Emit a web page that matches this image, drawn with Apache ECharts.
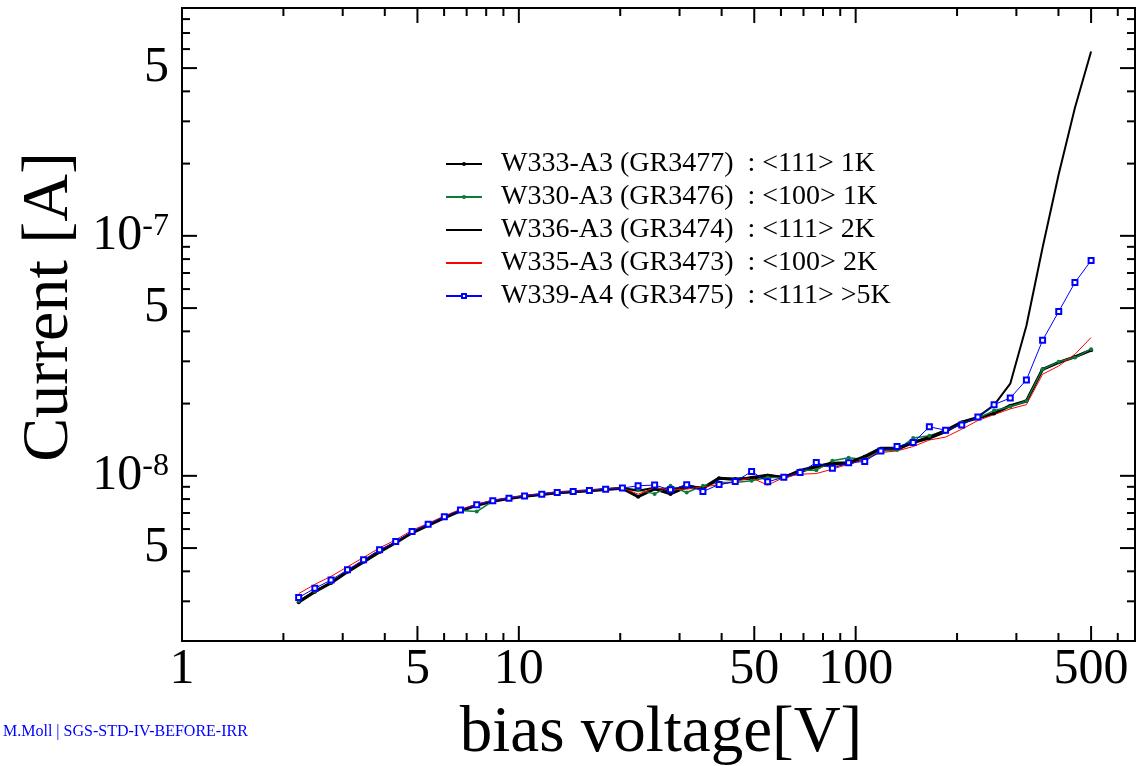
<!DOCTYPE html>
<html><head><meta charset="utf-8">
<script src="https://cdn.jsdelivr.net/npm/echarts@6/dist/echarts.min.js"></script>
<style>html,body{margin:0;padding:0;background:#fff}#c{width:1136px;height:766px}</style>
</head><body><div id="c"></div>
<script>
// ---- data ----
const voltages = [2.22, 2.48, 2.77, 3.10, 3.46, 3.86, 4.31, 4.82, 5.38, 6.01,
  6.71, 7.50, 8.37, 9.35, 10.4, 11.7, 13.0, 14.5, 16.2, 18.1,
  20.3, 22.6, 25.3, 28.2, 31.5, 35.2, 39.3, 43.9, 49.1, 54.8,
  61.2, 68.4, 76.4, 85.3, 95.3, 106.4, 118.8, 132.7, 148.2, 165.5,
  184.9, 206.5, 230.6, 257.6, 287.7, 321.3, 358.9, 400.8, 447.7, 500];

const w333 = [2.97e-9, 3.29e-9, 3.58e-9, 3.98e-9, 4.38e-9, 4.82e-9, 5.26e-9, 5.79e-9, 6.22e-9, 6.68e-9,
  7.15e-9, 7.54e-9, 7.83e-9, 8.04e-9, 8.22e-9, 8.36e-9, 8.50e-9, 8.58e-9, 8.66e-9, 8.78e-9,
  8.87e-9, 8.18e-9, 8.83e-9, 8.41e-9, 9.00e-9, 8.89e-9, 9.78e-9, 9.69e-9, 9.78e-9, 1.00e-8,
  9.84e-9, 1.042e-8, 1.09e-8, 1.119e-8, 1.119e-8, 1.20e-8, 1.29e-8, 1.29e-8, 1.377e-8, 1.436e-8,
  1.53e-8, 1.67e-8, 1.74e-8, 1.82e-8, 1.96e-8, 2.05e-8, 2.78e-8, 2.97e-8, 3.13e-8, 3.34e-8];

const w330 = [3.01e-9, 3.31e-9, 3.60e-9, 4.00e-9, 4.40e-9, 4.84e-9, 5.28e-9, 5.81e-9, 6.24e-9, 6.70e-9,
  7.17e-9, 7.10e-9, 7.85e-9, 8.05e-9, 8.23e-9, 8.37e-9, 8.51e-9, 8.59e-9, 8.67e-9, 8.79e-9,
  8.88e-9, 8.74e-9, 8.41e-9, 9.09e-9, 8.52e-9, 9.09e-9, 9.38e-9, 9.38e-9, 9.53e-9, 9.84e-9,
  9.84e-9, 1.056e-8, 1.056e-8, 1.155e-8, 1.19e-8, 1.17e-8, 1.27e-8, 1.28e-8, 1.436e-8, 1.47e-8,
  1.54e-8, 1.67e-8, 1.74e-8, 1.87e-8, 1.94e-8, 2.05e-8, 2.78e-8, 2.985e-8, 3.11e-8, 3.37e-8];

const w336 = [3.00e-9, 3.31e-9, 3.60e-9, 4.00e-9, 4.40e-9, 4.84e-9, 5.28e-9, 5.80e-9, 6.24e-9, 6.70e-9,
  7.16e-9, 7.55e-9, 7.85e-9, 8.05e-9, 8.23e-9, 8.37e-9, 8.51e-9, 8.59e-9, 8.67e-9, 8.79e-9,
  8.88e-9, 8.66e-9, 8.91e-9, 8.66e-9, 9.17e-9, 8.83e-9, 9.72e-9, 9.62e-9, 9.90e-9, 1.01e-8,
  9.90e-9, 1.059e-8, 1.10e-8, 1.133e-8, 1.14e-8, 1.21e-8, 1.31e-8, 1.31e-8, 1.385e-8, 1.454e-8,
  1.555e-8, 1.68e-8, 1.76e-8, 1.97e-8, 2.42e-8, 4.22e-8, 8.94e-8, 1.81e-7, 3.42e-7, 5.86e-7];

const w335 = [3.23e-9, 3.53e-9, 3.81e-9, 4.18e-9, 4.57e-9, 5.01e-9, 5.41e-9, 5.93e-9, 6.34e-9, 6.81e-9,
  7.25e-9, 7.62e-9, 7.90e-9, 8.10e-9, 8.28e-9, 8.42e-9, 8.55e-9, 8.63e-9, 8.71e-9, 8.83e-9,
  8.92e-9, 8.39e-9, 8.91e-9, 8.74e-9, 8.80e-9, 9.00e-9, 9.17e-9, 9.47e-9, 9.81e-9, 9.15e-9,
  9.84e-9, 1.016e-8, 1.022e-8, 1.066e-8, 1.119e-8, 1.17e-8, 1.25e-8, 1.27e-8, 1.325e-8, 1.41e-8,
  1.45e-8, 1.565e-8, 1.70e-8, 1.80e-8, 1.90e-8, 1.98e-8, 2.65e-8, 2.87e-8, 3.21e-8, 3.77e-8];

const w339 = [3.11e-9, 3.40e-9, 3.68e-9, 4.06e-9, 4.47e-9, 4.92e-9, 5.32e-9, 5.86e-9, 6.29e-9, 6.75e-9,
  7.20e-9, 7.57e-9, 7.87e-9, 8.07e-9, 8.25e-9, 8.39e-9, 8.52e-9, 8.60e-9, 8.68e-9, 8.80e-9,
  8.89e-9, 9.09e-9, 9.15e-9, 8.74e-9, 9.17e-9, 8.60e-9, 9.20e-9, 9.47e-9, 1.042e-8, 9.44e-9,
  9.87e-9, 1.032e-8, 1.136e-8, 1.076e-8, 1.133e-8, 1.148e-8, 1.27e-8, 1.324e-8, 1.376e-8, 1.60e-8,
  1.55e-8, 1.63e-8, 1.76e-8, 1.98e-8, 2.11e-8, 2.51e-8, 3.67e-8, 4.84e-8, 6.39e-8, 7.89e-8];

const seriesNames = [
  'W333-A3 (GR3477)  : <111> 1K',
  'W330-A3 (GR3476)  : <100> 1K',
  'W336-A3 (GR3474)  : <111> 2K',
  'W335-A3 (GR3473)  : <100> 2K',
  'W339-A4 (GR3475)  : <111> >5K'
];

const xTickLabels = [1, 5, 10, 50, 100, 500];
const xMajorTicks = [1, 5, 10, 50, 100, 500];
const xMinorTicks = [2, 3, 4, 6, 7, 8, 9, 20, 30, 40, 60, 70, 80, 90, 200, 300, 400, 600];
const yTickLabels = [5e-9, 1e-8, 5e-8, 1e-7, 5e-7];
const yMajorTicks = [5e-9, 1e-8, 5e-8, 1e-7, 5e-7];
const yMinorTicks = [3e-9, 4e-9, 6e-9, 7e-9, 8e-9, 9e-9, 2e-8, 3e-8, 4e-8, 6e-8, 7e-8, 8e-8, 9e-8,
  2e-7, 3e-7, 4e-7, 6e-7, 7e-7, 8e-7];

const X_MIN = 1, X_MAX = 675, Y_MIN = 2.05e-9, Y_MAX = 8.9e-7;
const FONT = 'Liberation Serif';

// ---- chart ----
const pairs = arr => voltages.map((v, i) => [v, arr[i]]);
const chart = echarts.init(document.getElementById('c'), null, {renderer: 'canvas'});

function tickLine(x1, y1, x2, y2) {
  return {type: 'line', shape: {x1, y1, x2, y2}, style: {stroke: '#000', lineWidth: 2}};
}
const MAJOR = 15, MINOR = 8;

const option = {
  animation: false,
  backgroundColor: '#fff',
  grid: {left: 182, right: 1, top: 8, bottom: 125, show: true, borderColor: '#000', borderWidth: 2, containLabel: false},
  xAxis: {type: 'log', logBase: 10, min: X_MIN, max: X_MAX,
    axisLine: {show: false}, axisTick: {show: false}, axisLabel: {show: false}, splitLine: {show: false}},
  yAxis: {type: 'log', logBase: 10, min: Y_MIN, max: Y_MAX,
    axisLine: {show: false}, axisTick: {show: false}, axisLabel: {show: false}, splitLine: {show: false}},
  legend: {
    orient: 'vertical', left: 445, top: 150, padding: 0,
    itemWidth: 36, itemHeight: 5, itemGap: 5,
    textStyle: {fontFamily: FONT, fontSize: 28, lineHeight: 28, color: '#000', padding: [0, 0, 0, 14]},
    data: [
      {name: seriesNames[0]},
      {name: seriesNames[1]},
      {name: seriesNames[2], itemStyle: {opacity: 0}},
      {name: seriesNames[3], itemStyle: {opacity: 0}},
      {name: seriesNames[4]}
    ]
  },
  graphic: [
    {type: 'text', left: 3, top: 724, style: {text: 'M.Moll | SGS-STD-IV-BEFORE-IRR', fill: '#0000ff', font: '16px "Liberation Serif"'}},
    {type: 'text', x: 661, y: 734, style: {text: 'bias voltage[V]', fill: '#000', font: '65px "Liberation Serif"', align: 'center', verticalAlign: 'middle'}},
    {type: 'text', x: 50, y: 307, rotation: Math.PI / 2, style: {text: 'Current [A]', fill: '#000', font: '66px "Liberation Serif"', align: 'center', verticalAlign: 'middle'}}
  ],
  series: [
    {name: seriesNames[0], type: 'line', data: pairs(w333), color: '#000',
      lineStyle: {width: 3, color: '#000'}, symbol: 'circle', symbolSize: 4, showAllSymbol: true,
      itemStyle: {color: '#000'}},
    {name: seriesNames[1], type: 'line', data: pairs(w330), color: '#0b7a3b',
      lineStyle: {width: 1.5, color: '#0b7a3b'}, symbol: 'circle', symbolSize: 4, showAllSymbol: true,
      itemStyle: {color: '#0b7a3b'}},
    {name: seriesNames[2], type: 'line', data: pairs(w336), color: '#000',
      lineStyle: {width: 2, color: '#000'}, symbol: 'none'},
    {name: seriesNames[3], type: 'line', data: pairs(w335), color: '#ff0000',
      lineStyle: {width: 1, color: '#ff0000'}, symbol: 'none'},
    {name: seriesNames[4], type: 'line', data: pairs(w339), color: '#0000ff',
      lineStyle: {width: 1, color: '#0000ff'}, symbol: 'emptyRect', symbolSize: 5, showAllSymbol: true,
      itemStyle: {color: '#0000ff', borderWidth: 1}},
    // x-axis ticks (bottom and mirrored top)
    {type: 'custom', silent: true, z: 10,
      data: xMajorTicks.map(v => [v, Y_MIN, MAJOR]).concat(xMinorTicks.map(v => [v, Y_MIN, MINOR])),
      renderItem: (params, api) => {
        const v = api.value(0), len = api.value(2);
        const b = api.coord([v, Y_MIN]), t = api.coord([v, Y_MAX]);
        return {type: 'group', children: [tickLine(b[0], b[1], b[0], b[1] - len), tickLine(t[0], t[1], t[0], t[1] + len)]};
      }},
    // y-axis ticks (left and mirrored right)
    {type: 'custom', silent: true, z: 10,
      data: yMajorTicks.map(v => [X_MIN, v, MAJOR]).concat(yMinorTicks.map(v => [X_MIN, v, MINOR])),
      renderItem: (params, api) => {
        const v = api.value(1), len = api.value(2);
        const l = api.coord([X_MIN, v]), r = api.coord([X_MAX, v]);
        return {type: 'group', children: [tickLine(l[0], l[1], l[0] + len, l[1]), tickLine(r[0], r[1], r[0] - len, r[1])]};
      }},
    // x tick labels
    {type: 'custom', silent: true,
      data: xTickLabels.map(v => [v, Y_MIN]),
      renderItem: (params, api) => {
        const v = api.value(0);
        const p = api.coord([v, Y_MIN]);
        return {type: 'text', x: p[0], y: p[1] + 4,
          style: {text: String(v), fill: '#000', font: '50px "Liberation Serif"', align: 'center', verticalAlign: 'top'}};
      }},
    // y tick labels
    {type: 'custom', silent: true,
      data: yTickLabels.map(v => [X_MIN, v]),
      renderItem: (params, api) => {
        const v = api.value(1);
        const p = api.coord([X_MIN, v]);
        const e = Math.floor(Math.log10(v) + 1e-9);
        const m = Math.round(v / Math.pow(10, e));
        const txt = m === 1 ? '{b|10}{s|' + e + '}' : '{b|' + m + '}';
        return {type: 'text', x: p[0] - 13, y: p[1],
          style: {text: txt, fill: '#000', align: 'right', verticalAlign: 'middle',
            rich: {
              b: {fontFamily: FONT, fontSize: 50, lineHeight: 50, fill: '#000'},
              s: {fontFamily: FONT, fontSize: 32, lineHeight: 50, verticalAlign: 'top', fill: '#000'}
            }}};
      }}
  ]
};
chart.setOption(option);
</script>
</body></html>
